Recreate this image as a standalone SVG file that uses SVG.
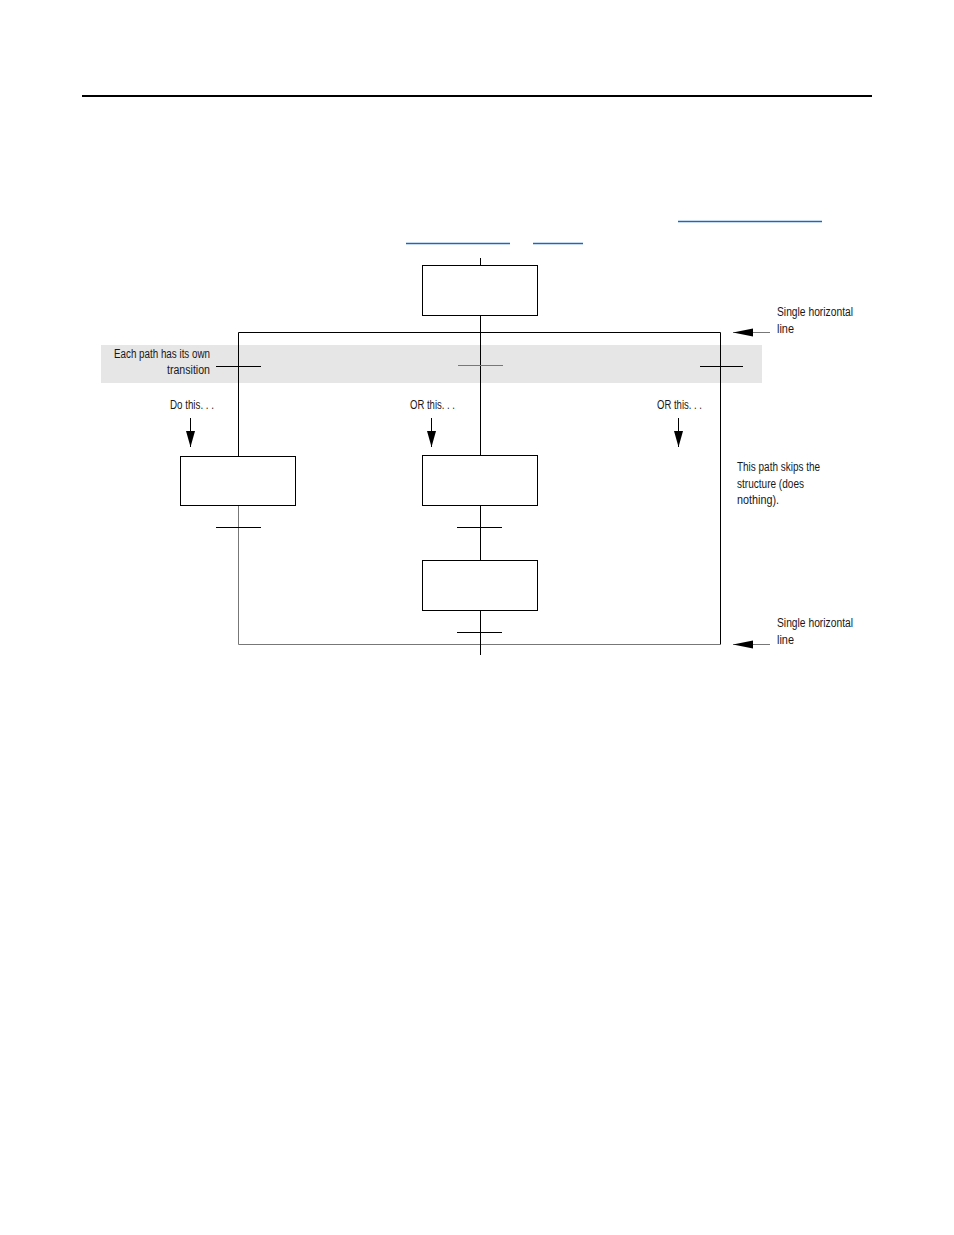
<svg xmlns="http://www.w3.org/2000/svg" width="954" height="1235" viewBox="0 0 954 1235">
<style>
.t{font-family:"Liberation Sans Narrow","Liberation Sans",Arial,sans-serif;font-size:12.5px;fill:#1a1718}
.ln{stroke:#000;stroke-width:1;fill:none}
.gl{stroke:#777;stroke-width:1;fill:none}
.box{fill:#fff;stroke:#000;stroke-width:1}
.lk{stroke:#1a68c4;stroke-width:1.6}
</style>
<defs>
<marker id="ahd" viewBox="0 0 16 10" refX="16" refY="5" markerWidth="16" markerHeight="10" markerUnits="userSpaceOnUse" orient="auto">
<path d="M0,0.5 L16,5 L0,9.5 Z" fill="#000"/>
</marker>
<marker id="ahl" viewBox="0 0 20 9" refX="20" refY="4.5" markerWidth="20" markerHeight="9" markerUnits="userSpaceOnUse" orient="auto">
<path d="M0,0.5 L20,4.5 L0,8.5 Z" fill="#000"/>
</marker>
</defs>
<rect width="954" height="1235" fill="#fff"/>
<line x1="82" y1="96" x2="872" y2="96" stroke="#000" stroke-width="2"/>
<line class="lk" x1="678" y1="221.5" x2="822" y2="221.5"/>
<line class="lk" x1="406" y1="243.5" x2="510" y2="243.5"/>
<line class="lk" x1="533" y1="243.5" x2="583" y2="243.5"/>
<rect x="101" y="345" width="661" height="38" fill="#e6e6e6"/>
<g id="connectors">
<line class="ln" x1="480.5" y1="258" x2="480.5" y2="265"/>
<line class="ln" x1="480.5" y1="315" x2="480.5" y2="455"/>
<polyline class="ln" points="238.5,456 238.5,332.5 720.5,332.5 720.5,644.5"/>
<polyline class="gl" points="238.5,505 238.5,644.5 720.5,644.5"/>
<line class="ln" x1="480.5" y1="505" x2="480.5" y2="560"/>
<line class="ln" x1="480.5" y1="610" x2="480.5" y2="655"/>
<line class="ln" x1="216" y1="366.5" x2="261" y2="366.5"/>
<line class="gl" x1="458" y1="365.5" x2="503" y2="365.5"/>
<line class="ln" x1="700" y1="366.5" x2="743" y2="366.5"/>
<line class="ln" x1="216" y1="527.5" x2="261" y2="527.5"/>
<line class="ln" x1="457" y1="527.5" x2="502" y2="527.5"/>
<line class="ln" x1="457" y1="632.5" x2="502" y2="632.5"/>
<line class="ln" x1="190.5" y1="418" x2="190.5" y2="447" marker-end="url(#ahd)"/>
<line class="ln" x1="431.5" y1="418" x2="431.5" y2="447" marker-end="url(#ahd)"/>
<line class="ln" x1="678.5" y1="418" x2="678.5" y2="447" marker-end="url(#ahd)"/>
<line class="gl" x1="770" y1="332.5" x2="733" y2="332.5" marker-end="url(#ahl)"/>
<line class="gl" x1="770" y1="644.5" x2="733" y2="644.5" marker-end="url(#ahl)"/>
</g>
<g id="step-top"><rect class="box" x="422.5" y="265.5" width="115" height="50"/></g>
<g id="step-left"><rect class="box" x="180.5" y="456.5" width="115" height="49"/></g>
<g id="step-mid"><rect class="box" x="422.5" y="455.5" width="115" height="50"/></g>
<g id="step-bottom"><rect class="box" x="422.5" y="560.5" width="115" height="50"/></g>
<g id="labels">
<text class="t" x="114" y="358" textLength="96" lengthAdjust="spacingAndGlyphs">Each path has its own</text>
<text class="t" x="167" y="374" textLength="43" lengthAdjust="spacingAndGlyphs">transition</text>
<text class="t" x="170" y="409" textLength="44" lengthAdjust="spacingAndGlyphs">Do this. . .</text>
<text class="t" x="410" y="409" textLength="45" lengthAdjust="spacingAndGlyphs">OR this. . .</text>
<text class="t" x="657" y="409" textLength="45" lengthAdjust="spacingAndGlyphs">OR this. . .</text>
<text class="t" x="777" y="316" textLength="76" lengthAdjust="spacingAndGlyphs">Single horizontal</text>
<text class="t" x="777" y="333" textLength="17" lengthAdjust="spacingAndGlyphs">line</text>
<text class="t" x="737" y="471" textLength="83" lengthAdjust="spacingAndGlyphs">This path skips the</text>
<text class="t" x="737" y="488" textLength="67" lengthAdjust="spacingAndGlyphs">structure (does</text>
<text class="t" x="737" y="504" textLength="42" lengthAdjust="spacingAndGlyphs">nothing).</text>
<text class="t" x="777" y="627" textLength="76" lengthAdjust="spacingAndGlyphs">Single horizontal</text>
<text class="t" x="777" y="644" textLength="17" lengthAdjust="spacingAndGlyphs">line</text>
</g>
</svg>
